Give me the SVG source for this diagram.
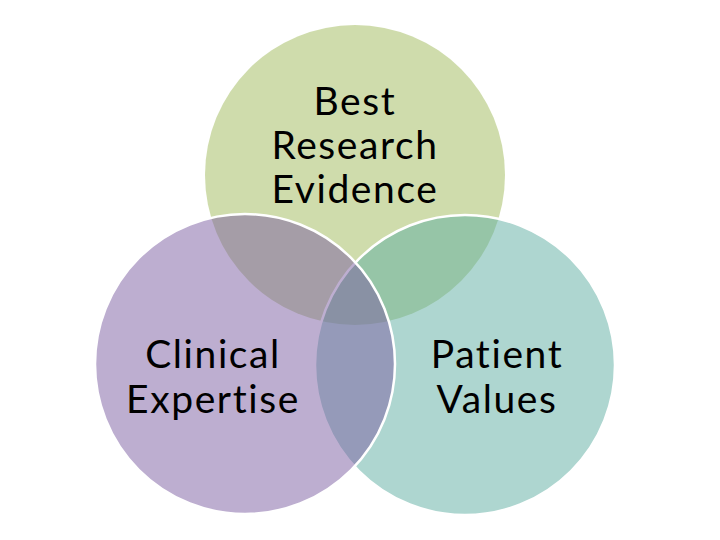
<svg xmlns="http://www.w3.org/2000/svg" width="720" height="540" viewBox="0 0 720 540">
<style>
.c{fill-opacity:0.5}
.s{stroke:#ffffff;stroke-width:2.5}
.t{font-family:Lato,"Noto Sans","Liberation Sans",sans-serif;font-size:39px;letter-spacing:1.6px;fill:#000;text-anchor:middle}
</style>
<rect width="720" height="540" fill="#ffffff"/>
<g id="best-research-evidence">
<circle class="c" cx="355" cy="175" r="150" fill="#9fb959"/>
</g>
<g id="patient-values">
<circle class="c s" cx="465" cy="365" r="150" fill="#5dada1"/>
</g>
<g id="clinical-expertise">
<circle class="c s" cx="245" cy="364" r="150" fill="#7b5da1"/>
</g>
<g id="labels">
<text class="t" x="355" y="115">Best</text>
<text class="t" x="355" y="159">Research</text>
<text class="t" x="355" y="203">Evidence</text>
<text class="t" x="213" y="368">Clinical</text>
<text class="t" x="213" y="413">Expertise</text>
<text class="t" x="497" y="368">Patient</text>
<text class="t" x="497" y="413">Values</text>
</g>
<g id="connectors"/>
</svg>
